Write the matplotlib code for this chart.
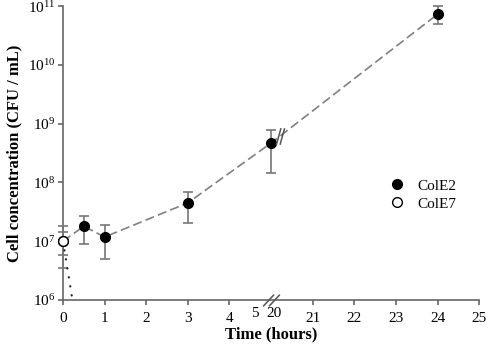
import matplotlib.pyplot as plt
import numpy as np
from matplotlib.path import Path
from matplotlib.lines import Line2D

plt.rcParams['font.family'] = ['Liberation Serif', 'DejaVu Serif']
plt.rcParams['mathtext.fontset'] = 'stix'

# ColE2 data (hours, CFU/mL)
t_e2 = [0, 0.5, 1, 3, 20, 24]
c_e2 = [1.0e7, 1.8e7, 1.18e7, 4.5e7, 4.7e8, 7.3e10]
hi_e2 = [1.8e7, 2.7e7, 1.9e7, 6.9e7, 7.8e8, 1.0e11]
lo_e2 = [3.5e6, 9.0e6, 5.0e6, 2.05e7, 1.45e8, 4.9e10]

# ColE7 data
t_e7 = [0, 0.25]
c_e7 = [1.0e7, 8.0e5]
hi_e7 = [1.45e7]
lo_e7 = [5.8e6]

x_ticks = [0, 1, 2, 3, 4, 21, 22, 23, 24, 25]


def pos(t):
    # broken time axis: 5 and 20 h share the same spot
    t = np.asarray(t, dtype=float)
    return np.where(t <= 5, t, t - 15)


# "//" break symbols as marker paths
codes = [Path.MOVETO, Path.LINETO, Path.MOVETO, Path.LINETO]
slash_axis = Path([(-0.5, -0.35), (0.15, 0.35), (-0.15, -0.35), (0.5, 0.35)], codes)
slash_line = Path([(-0.25, -0.5), (0.03, 0.5), (-0.03, -0.5), (0.25, 0.5)], codes)

fig = plt.figure(figsize=(4.92, 3.54), dpi=100)
ax = fig.add_axes([0.128, 0.1525, 0.846, 0.83])

x2 = pos(t_e2)
ax.plot(x2, c_e2, color='#808080', lw=1.2, dashes=(5.5, 2.5), zorder=2)
yerr2 = [np.array(c_e2) - np.array(lo_e2), np.array(hi_e2) - np.array(c_e2)]
ax.errorbar(x2, c_e2, yerr=yerr2, fmt='none', ecolor='#777777', elinewidth=1.2,
            capsize=3.6, capthick=1.2, zorder=3, clip_on=False)
ax.plot(x2, c_e2, 'o', color='black', ms=7, zorder=4, clip_on=False)

x7 = pos(t_e7)
ax.plot(x7, c_e7, color='#222222', lw=1.6, ls=(0, (0.1, 4.0)),
        dash_capstyle='round', zorder=3.5)
yerr7 = [[c_e7[0] - lo_e7[0]], [hi_e7[0] - c_e7[0]]]
ax.errorbar(x7[:1], c_e7[:1], yerr=yerr7, fmt='none', ecolor='#777777',
            elinewidth=1.2, capsize=3.6, capthick=1.2, zorder=3, clip_on=False)
ax.plot(x7[:1], c_e7[:1], 'o', mfc='white', mec='black', mew=1.0, ms=7,
        zorder=5, clip_on=False)

# break marks on the axis and on the curve
ax.plot([5.0], [1e6], marker=slash_axis, ms=12, mfc='none', mec='#555555',
        mew=1.1, ls='none', clip_on=False, zorder=6)
f = 0.055
yb = 10 ** (np.log10(c_e2[4]) + f * (np.log10(c_e2[5]) - np.log10(c_e2[4])))
xb = x2[4] + f * (x2[5] - x2[4])
ax.plot([xb], [yb], marker=slash_line, ms=12, mfc='none', mec='#555555',
        mew=1.1, ls='none', zorder=6)

ax.set_yscale('log')
ax.set_ylim(1e6, 1e11)
ax.set_xlim(0, 10)
ax.yaxis.set_minor_locator(plt.NullLocator())
ax.set_yticks([1e6, 1e7, 1e8, 1e9, 1e10, 1e11])

ax.set_xticks(pos(x_ticks))
ax.set_xticklabels([str(v) for v in x_ticks])
ax.set_xticks([4.62, 5.07], minor=True)
ax.set_xticklabels(['5', '20'], minor=True)
ax.tick_params(axis='x', which='minor', length=0, pad=5, labelsize=11)

ax.spines['top'].set_visible(False)
ax.spines['right'].set_visible(False)
for s in ['left', 'bottom']:
    ax.spines[s].set_color('#666666')
    ax.spines[s].set_linewidth(1.2)
ax.tick_params(axis='both', which='major', length=3.5, width=1.2,
               color='#666666', labelsize=11)
ax.tick_params(axis='x', which='major', pad=5)
ax.tick_params(axis='y', which='major', pad=2)

ax.set_xlabel('Time (hours)', fontsize=12, fontweight='bold', labelpad=1)
ax.set_ylabel('Cell concentration (CFU / mL)', fontsize=12, fontweight='bold',
              labelpad=4)

handles = [
    Line2D([], [], marker='o', ls='none', color='black', ms=7),
    Line2D([], [], marker='o', ls='none', mfc='white', mec='black', ms=7),
]
ax.legend(handles, ['ColE2', 'ColE7'], loc='center left',
          bbox_to_anchor=(0.752, 0.358), frameon=False,
          handlelength=1.0, handletextpad=0.8, labelspacing=0.3,
          prop={'size': 11})

fig.savefig('out.png', dpi=100)
